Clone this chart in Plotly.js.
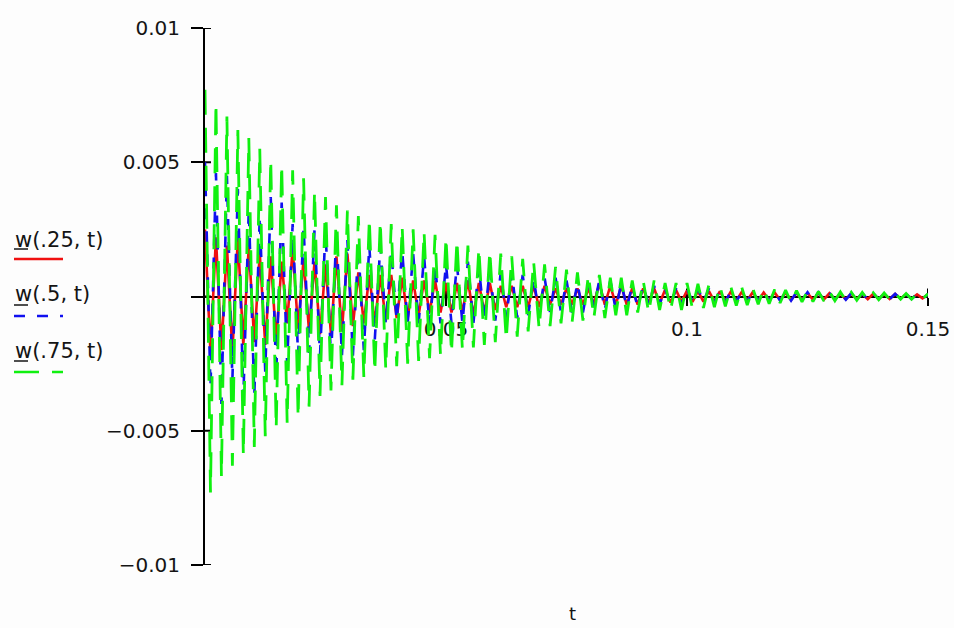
<!DOCTYPE html>
<html>
<head>
<meta charset="utf-8">
<script src="https://cdn.plot.ly/plotly-3.0.1.min.js"></script>
<style>html,body{margin:0;padding:0;background:#ffffff}</style>
</head>
<body>
<div id="chart" style="width:954px;height:628px"></div>
<script>
const T_START = 0;
const T_END = 0.15;

const W_025 = [
  .0025,-.0021,.0022,-.0020,.0019,-.0021,.0022,-.0018,.0019,-.0017,
  .0016,-.0018,.0015,-.0017,.0013,-.0010,.0018,-.0012,.0014,-.0013,
  .0013,-.0014,.0012,-.0014,.0015,-.0013,.0016,-.0011,.0009,-.0010,
  .0008,-.0010,.0008,-.0009,.0008,-.0008,.0007,-.0008,.0006,-.0007,
  .0006,-.0006,.0006,-.0006,.0005,-.0006,.0005,-.0006,.0006,-.0007,
  .0005,-.0006,.0005,-.0005,.0004,-.0004,.0004,-.0004,.0004,-.0004,
  .0004,-.0004,.0004,-.0003,.0003,-.0003,.0003,-.0003,.0003,-.0003,
  .0003,-.0003,.0005,-.0003,.0004,-.0003,.0004,-.0003,.0003,-.0003,
  .0003,-.00025,.0003,-.00025,.00025,-.00022,.00024,-.0002,.00022,-.0002,
  .0002,-.00019,.0002,-.00018,.00019,-.00017,.00018,-.00016,.00017,-.00015,
  .00016,-.00015,.00015,-.00014,.00015,-.00013,.00014,-.00013,.00013,-.00012,
  .00013,-.00012,.00012,-.00011,.00012,-.00011,.00011,-.0001,.00011,-.0001,
  .0001,-.0001,.0001,-.00009,.0001,-.00009,.00009,-.00008,.00009,-.00008,
  .00008,-.00007,.00008
];

const W_05 = [
  .0050,-.0034,.0046,-.0040,.0045,-.0031,.0040,-.0038,.0033,-.0037,
  .0030,-.0028,.0037,-.0029,.0035,-.0025,.0027,-.0022,.0026,-.0021,
  .0025,-.0022,.0025,-.0023,.0024,-.0022,.0021,-.0022,.0019,-.0020,
  .0019,-.0016,.0019,-.0010,.0017,-.0009,.0017,-.0010,.0016,-.0010,
  .0015,-.0011,.0012,-.0010,.0012,-.0010,.0012,-.0010,.0013,-.0010,
  .0011,-.0009,.0010,-.0009,.0009,-.0008,.0009,-.0008,.0008,-.0007,
  .0007,-.0007,.0007,-.0006,.0007,-.0006,.0006,-.0006,.0005,-.0006,
  .0005,-.0004,.0006,-.0005,.0006,-.0005,.0005,-.0004,.0004,-.0004,
  .0004,-.0003,.0004,-.0003,.0003,-.0003,.0003,-.0003,.0003,-.0002,
  .0003,-.0002,.0003,-.0002,.0002,-.0002,.0002,-.0002,.0002,-.0002,
  .0002,-.00018,.0002,-.00017,.00018,-.00016,.00017,-.00015,.00016,-.00014,
  .00016,-.00013,.00015,-.00013,.00014,-.00012,.00013,-.00012,.00013,-.00011,
  .00012,-.00011,.00012,-.0001,.00011,-.0001,.0001,-.00009,.0001,-.00009,
  .00009,-.00008,.00008
];

const W_075 = [
  .0077,-.0073,.0072,-.0067,.0067,-.0063,.0062,-.0059,.0059,-.0056,
  .0055,-.0052,.0051,-.0049,.0049,-.0047,.0047,-.0045,.0044,-.0041,
  .0039,-.0037,.0037,-.0035,.0034,-.0033,.0032,-.0031,.0030,-.0030,
  .0029,-.0028,.0028,-.0027,.0027,-.0026,.0026,-.0025,.0025,-.0024,
  .0024,-.0023,.0023,-.0022,.0022,-.0021,.0021,-.0020,.0019,-.0019,
  .0018,-.0018,.0017,-.0017,.0016,-.0016,.0015,-.0015,.0014,-.0013,
  .0013,-.0012,.0012,-.0011,.0011,-.0010,.0010,-.0010,.0009,-.0009,
  .0008,-.0008,.0008,-.0008,.0007,-.0007,.0007,-.0007,.0006,-.0006,
  .0006,-.0006,.0006,-.0005,.0005,-.0005,.0005,-.0005,.0005,-.00045,
  .00047,-.00043,.00044,-.0004,.0004,-.00037,.00036,-.00034,.00034,-.00032,
  .00031,-.00029,.00029,-.00027,.00026,-.00024,.00024,-.00022,.00022,-.0002,
  .0002,-.00019,.00019,-.00017,.00018,-.00016,.00017,-.00015,.00016,-.00014,
  .00015,-.00013,.00014,-.00012,.00013,-.00011,.00012,-.0001,.00011,-.0001,
  .00011,-.00009,.0001
];

const SERIES_NAMES = ['w(.25, t)', 'w(.5, t)', 'w(.75, t)'];
const X_TICKS = [0.05, 0.1, 0.15];
const X_TICK_TEXT = ['0.05', '0.1', '0.15'];
const Y_TICKS = [-0.01, -0.005, 0, 0.005, 0.01];
const Y_TICK_TEXT = ['\u22120.01', '\u22120.005', '', '0.005', '0.01'];
const X_TITLE = 't';

// ---- styling ----
const FONT = 'DejaVu Sans, Verdana, sans-serif';
const TXT = '#141414';
const STYLES = [
  {color: '#f01010', width: 2.6, dash: 'solid'},
  {color: '#1010f0', width: 2.6, dash: '11px,12px'},
  {color: '#10f010', width: 2.8, dash: '25px,13px'}
];
const SERIES = [W_025, W_05, W_075];

const W = 954, H = 628;
const M = {l: 205, r: 26, t: 28, b: 63};
const PW = W - M.l - M.r, PH = H - M.t - M.b;
const px2x = px => (px - M.l) / PW;
const py2y = py => (H - M.b - py) / PH;

const traces = SERIES.map((ys, i) => ({
  type: 'scatter', mode: 'lines',
  name: SERIES_NAMES[i],
  y: ys,
  x0: T_START,
  dx: (T_END - T_START) / (ys.length - 1),
  line: {color: STYLES[i].color, width: STYLES[i].width, dash: STYLES[i].dash},
  showlegend: false, hoverinfo: 'skip'
}));

const shapes = [];
const annotations = [];

// inner halves of the crossing tick marks
X_TICKS.forEach(v => shapes.push({
  type: 'line', xref: 'x', yref: 'y', layer: 'below',
  x0: v, x1: v, ysizemode: 'pixel', yanchor: 0, y0: 0, y1: 8,
  line: {color: '#000', width: 2}
}));
Y_TICKS.forEach(v => shapes.push({
  type: 'line', xref: 'x', yref: 'y', layer: 'below',
  y0: v, y1: v, xsizemode: 'pixel', xanchor: 0, x0: 0, x1: 6,
  line: {color: '#000', width: 2}
}));

// Mathcad-style legend: label above, line sample below
const LEG_TEXT_Y = [240, 294, 351];
const LEG_LINE_Y = [259, 316, 372];
const LEG_ULINE_Y = [249, 305, 361];
SERIES_NAMES.forEach((nm, i) => {
  annotations.push({
    xref: 'paper', yref: 'paper', x: px2x(13), y: py2y(LEG_TEXT_Y[i]),
    xanchor: 'left', yanchor: 'middle', showarrow: false, text: nm,
    font: {family: FONT, size: 21, color: TXT}
  });
  shapes.push({
    type: 'line', xref: 'paper', yref: 'paper',
    x0: px2x(14), x1: px2x(28), y0: py2y(LEG_ULINE_Y[i]), y1: py2y(LEG_ULINE_Y[i]),
    line: {color: TXT, width: 1.5}
  });
  shapes.push({
    type: 'line', xref: 'paper', yref: 'paper',
    x0: px2x(14), x1: px2x(63), y0: py2y(LEG_LINE_Y[i]), y1: py2y(LEG_LINE_Y[i]),
    line: {color: STYLES[i].color, width: 2.5, dash: STYLES[i].dash}
  });
});

annotations.push({
  xref: 'paper', yref: 'paper', x: px2x(572), y: py2y(613),
  xanchor: 'center', yanchor: 'middle', showarrow: false, text: X_TITLE,
  font: {family: FONT, size: 18, color: TXT}
});

const layout = {
  width: W, height: H,
  margin: M,
  paper_bgcolor: '#fdfdfd', plot_bgcolor: 'rgba(0,0,0,0)',
  showlegend: false,
  xaxis: {
    range: [T_START, T_END], anchor: 'free', position: 0.5,
    showline: true, linecolor: '#000', linewidth: 2,
    ticks: 'outside', ticklen: 8, tickwidth: 2, tickcolor: '#000',
    tickmode: 'array', tickvals: X_TICKS, ticktext: X_TICK_TEXT,
    showgrid: false, zeroline: false, ticklabelstandoff: 6,
    tickfont: {family: FONT, size: 20, color: TXT},
    layer: 'below traces', fixedrange: true
  },
  yaxis: {
    range: [-0.01, 0.01],
    showline: true, linecolor: '#000', linewidth: 2,
    ticks: 'outside', ticklen: 12, tickwidth: 2, tickcolor: '#000',
    tickmode: 'array', tickvals: Y_TICKS, ticktext: Y_TICK_TEXT,
    showgrid: false, zeroline: false, ticklabelstandoff: 7,
    tickfont: {family: FONT, size: 20, color: TXT},
    layer: 'below traces', fixedrange: true
  },
  shapes: shapes,
  annotations: annotations
};

Plotly.newPlot('chart', traces, layout, {staticPlot: true, displayModeBar: false});
</script>
</body>
</html>
